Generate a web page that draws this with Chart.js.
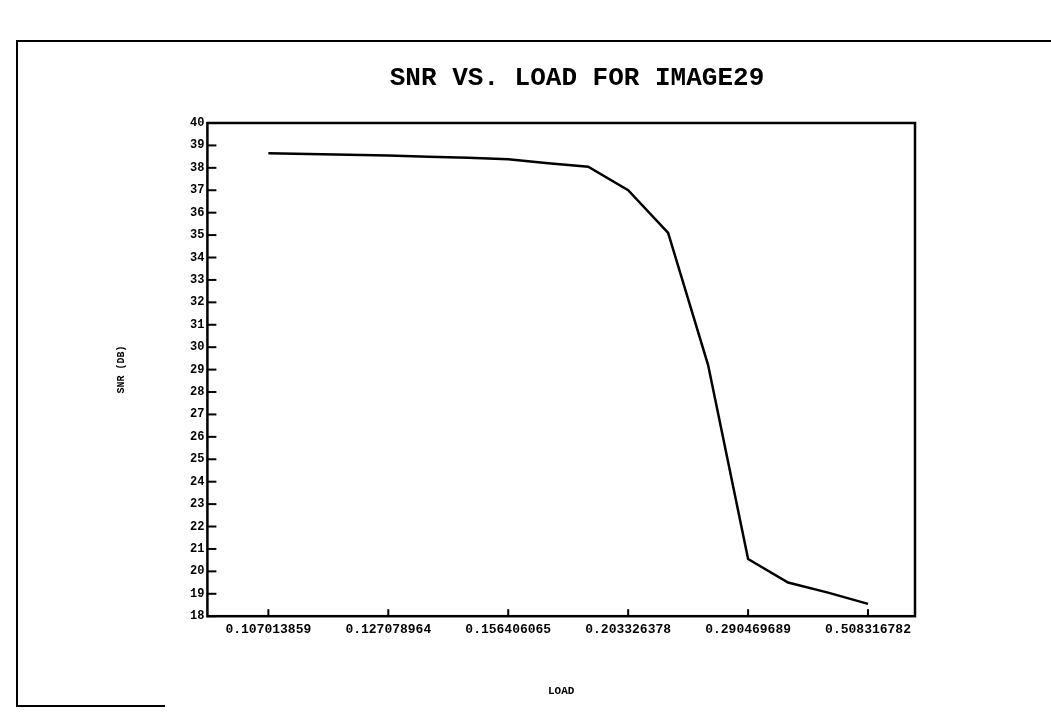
<!DOCTYPE html>
<html>
<head>
<meta charset="utf-8">
<script src="https://cdn.jsdelivr.net/npm/chart.js@4.4.1/dist/chart.umd.min.js"></script>
<style>
  html, body { margin: 0; padding: 0; background: #fff; }
  #wrap { position: relative; width: 1051px; height: 716px; }
</style>
</head>
<body>
<div id="wrap"><canvas id="snrCanvas"></canvas></div>
<script>
Chart.defaults.color = "#000000";
Chart.defaults.font.family = "'Liberation Mono', 'DejaVu Sans Mono', monospace";
Chart.defaults.font.weight = "bold";

const chartTitle = "SNR VS. LOAD FOR IMAGE29";
// SNR (dB) for each load step
const snr = [38.65, 38.62, 38.58, 38.55, 38.5, 38.45, 38.38, 38.2, 38.05,
             37.0, 35.1, 29.2, 20.55, 19.5, 19.05, 18.55];
// labelled load values, one every third point
const loadTicks = ['0.107013859', '0.127078964', '0.156406065',
                   '0.203326378', '0.290469689', '0.508316782'];
const yTicks = [18, 19, 20, 21, 22, 23, 24, 25, 26, 27, 28, 29,
                30, 31, 32, 33, 34, 35, 36, 37, 38, 39, 40];

const points = snr.map((v, i) => ({ x: i, y: v }));

// page frame, title, plot box and inward tick marks
const framePlugin = {
    id: "frame",
    afterDraw(chart) {
        const ctx = chart.ctx;
        const a = chart.chartArea;
        ctx.save();
        ctx.strokeStyle = "#000";
        ctx.lineWidth = 2;
        ctx.beginPath();
        ctx.moveTo(1051, 41);
        ctx.lineTo(17, 41);
        ctx.lineTo(17, 706);
        ctx.lineTo(165, 706);
        ctx.stroke();

        ctx.fillStyle = "#000";
        ctx.font = "bold 26px 'Liberation Mono', monospace";
        ctx.textAlign = "center";
        ctx.textBaseline = "middle";
        ctx.fillText(chartTitle, 577, 78);

        ctx.lineWidth = 2.5;
        ctx.strokeRect(a.left, a.top, a.right - a.left, a.bottom - a.top);

        ctx.lineWidth = 2;
        const ys = chart.scales.y;
        ys.ticks.forEach(t => {
            const py = ys.getPixelForValue(t.value);
            ctx.beginPath();
            ctx.moveTo(a.left, py);
            ctx.lineTo(a.left + 9, py);
            ctx.stroke();
        });
        const xs = chart.scales.x;
        xs.ticks.forEach(t => {
            const px = xs.getPixelForValue(t.value);
            ctx.beginPath();
            ctx.moveTo(px, a.bottom);
            ctx.lineTo(px, a.bottom - 7);
            ctx.stroke();
        });
        ctx.restore();
    }
};

new Chart(document.getElementById("snrCanvas"), {
    type: "line",
    data: {
        datasets: [{
            data: points,
            borderColor: "#000",
            borderWidth: 2.5,
            pointRadius: 0,
            tension: 0,
            fill: false
        }]
    },
    options: {
        responsive: true,
        maintainAspectRatio: false,
        animation: false,
        layout: { padding: { left: 115, right: 136, top: 123, bottom: 18 } },
        plugins: {
            legend: { display: false },
            tooltip: { enabled: false },
            title: { display: false }
        },
        scales: {
            x: {
                type: "linear",
                min: -1.525,
                max: 16.175,
                afterBuildTicks(scale) {
                    scale.ticks = loadTicks.map((_, i) => ({ value: i * 3 }));
                },
                ticks: {
                    padding: 6,
                    maxRotation: 0,
                    autoSkip: false,
                    font: { size: 13 },
                    callback: (v) => loadTicks[v / 3]
                },
                grid: { display: false, drawTicks: false },
                border: { display: false },
                title: {
                    display: true,
                    text: "LOAD",
                    font: { size: 11 },
                    padding: { top: 41, bottom: 0 }
                }
            },
            y: {
                min: 18,
                max: 40,
                afterBuildTicks(scale) {
                    scale.ticks = yTicks.map(v => ({ value: v }));
                },
                ticks: {
                    padding: 3,
                    autoSkip: false,
                    font: { size: 12 }
                },
                grid: { display: false, drawTicks: false },
                border: { display: false },
                title: {
                    display: true,
                    text: "SNR (DB)",
                    font: { size: 10 },
                    padding: { top: 0, bottom: 60 }
                }
            }
        }
    },
    plugins: [framePlugin]
});
</script>
</body>
</html>
